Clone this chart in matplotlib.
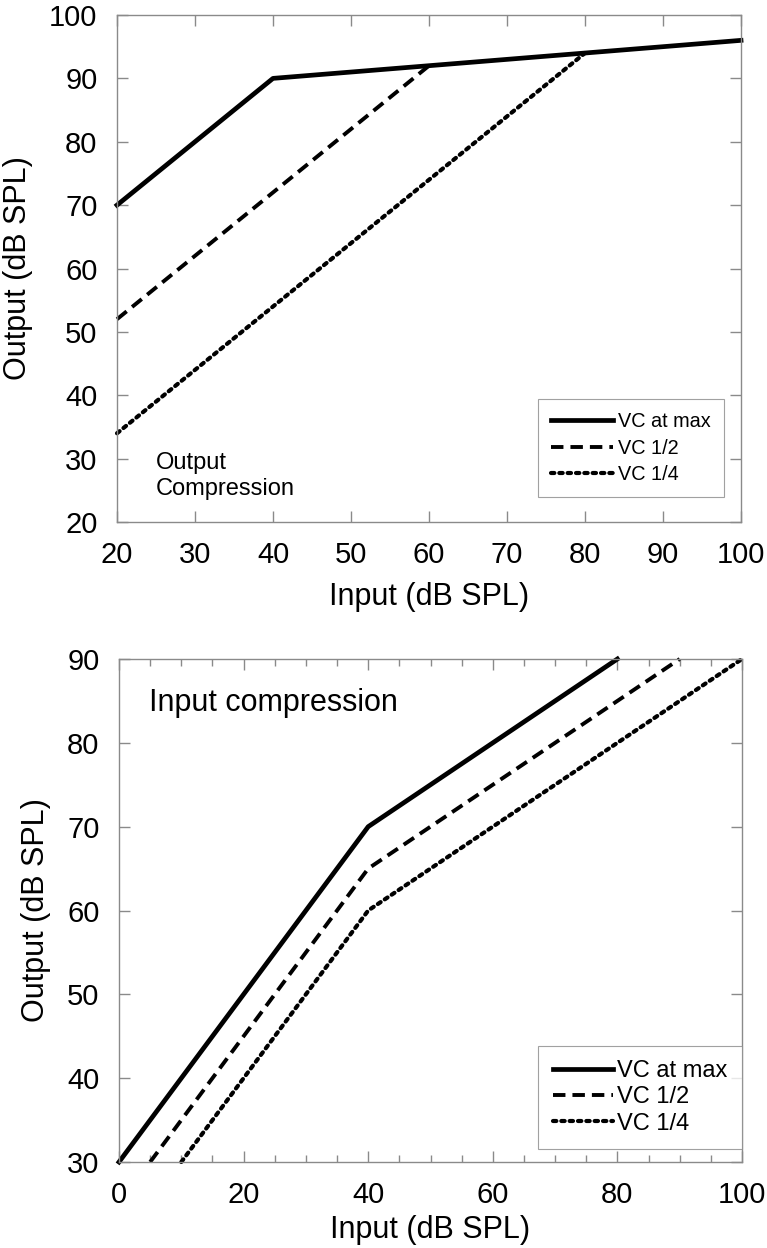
import numpy as np
from matplotlib import pyplot as plt
from matplotlib.ticker import MultipleLocator

plt.rcParams['font.family'] = ['Liberation Sans', 'DejaVu Sans']

# top panel: output compression
oc_in_max = [20, 40, 100]
oc_out_max = [70, 90, 96]
oc_in_half = [20, 60]
oc_out_half = [52, 92]
oc_in_quarter = [20, 80]
oc_out_quarter = [34, 94]

# bottom panel: input compression
ic_in_max = [0, 40, 80]
ic_out_max = [30, 70, 90]
ic_in_half = [5, 40, 90]
ic_out_half = [30, 65, 90]
ic_in_quarter = [10, 40, 100]
ic_out_quarter = [30, 60, 90]

labels = ["VC at max", "VC 1/2", "VC 1/4"]
spine_color = "#8a8a8a"


def format_axis(ax, xpad):
    for s in ax.spines.values():
        s.set_color(spine_color)
        s.set_linewidth(1.0)
    ax.tick_params(axis='both', which='both', direction='in', top=True, right=True,
                   color=spine_color, labelsize=21, pad=14)
    ax.tick_params(which='major', length=8, width=1)
    ax.tick_params(which='minor', length=5, width=1)
    ax.set_xlabel("Input (dB SPL)", fontsize=22, labelpad=xpad)
    ax.set_ylabel("Output (dB SPL)", fontsize=22, labelpad=12)
    return


def plot_curves(ax, xs, ys):
    styles = [dict(linestyle='-', linewidth=3.4),
              dict(linestyle=(0, (3.2, 1.8)), linewidth=2.8),
              dict(linestyle=(0, (0.8, 1.2)), linewidth=3.0, dash_capstyle='round')]
    for x, y, st, lab in zip(xs, ys, styles, labels):
        ax.plot(x, y, color='k', clip_on=False, label=lab, **st)
    return


fig = plt.figure(figsize=[7.67, 12.48], dpi=100)
fig.patch.set_facecolor('white')

ax1 = fig.add_axes([117 / 767, 1 - 522 / 1248, 624 / 767, 507 / 1248])
plot_curves(ax1, [oc_in_max, oc_in_half, oc_in_quarter],
            [oc_out_max, oc_out_half, oc_out_quarter])
ax1.set_xlim(20, 100)
ax1.set_ylim(20, 100)
ax1.xaxis.set_major_locator(MultipleLocator(10))
ax1.yaxis.set_major_locator(MultipleLocator(10))
format_axis(ax1, 9)
ax1.text(0.062, 0.091, "Output\nCompression", transform=ax1.transAxes, fontsize=17,
         ha='left', va='center', linespacing=1.25)
leg1 = ax1.legend(loc='lower right', bbox_to_anchor=(0.973, 0.049), borderaxespad=0,
                  fontsize=14.3, handlelength=3.1, handletextpad=0.3, labelspacing=0.38,
                  borderpad=0.65, frameon=True, fancybox=False)
leg1.get_frame().set_edgecolor(spine_color)
leg1.get_frame().set_linewidth(0.8)

ax2 = fig.add_axes([119 / 767, 1 - 1162 / 1248, 623 / 767, 503 / 1248])
plot_curves(ax2, [ic_in_max, ic_in_half, ic_in_quarter],
            [ic_out_max, ic_out_half, ic_out_quarter])
ax2.set_xlim(0, 100)
ax2.set_ylim(30, 90)
ax2.xaxis.set_major_locator(MultipleLocator(20))
ax2.xaxis.set_minor_locator(MultipleLocator(5))
ax2.yaxis.set_major_locator(MultipleLocator(10))
format_axis(ax2, 4)
ax2.text(0.048, 0.913, "Input compression", transform=ax2.transAxes, fontsize=22,
         ha='left', va='center')
leg2 = ax2.legend(loc='lower right', bbox_to_anchor=(1.0, 0.026), borderaxespad=0,
                  fontsize=17, handlelength=2.55, handletextpad=0.2, labelspacing=0.19,
                  borderpad=0.6, frameon=True, fancybox=False)
leg2.get_frame().set_edgecolor(spine_color)
leg2.get_frame().set_linewidth(0.8)

fig.savefig("out.png", dpi=100)
